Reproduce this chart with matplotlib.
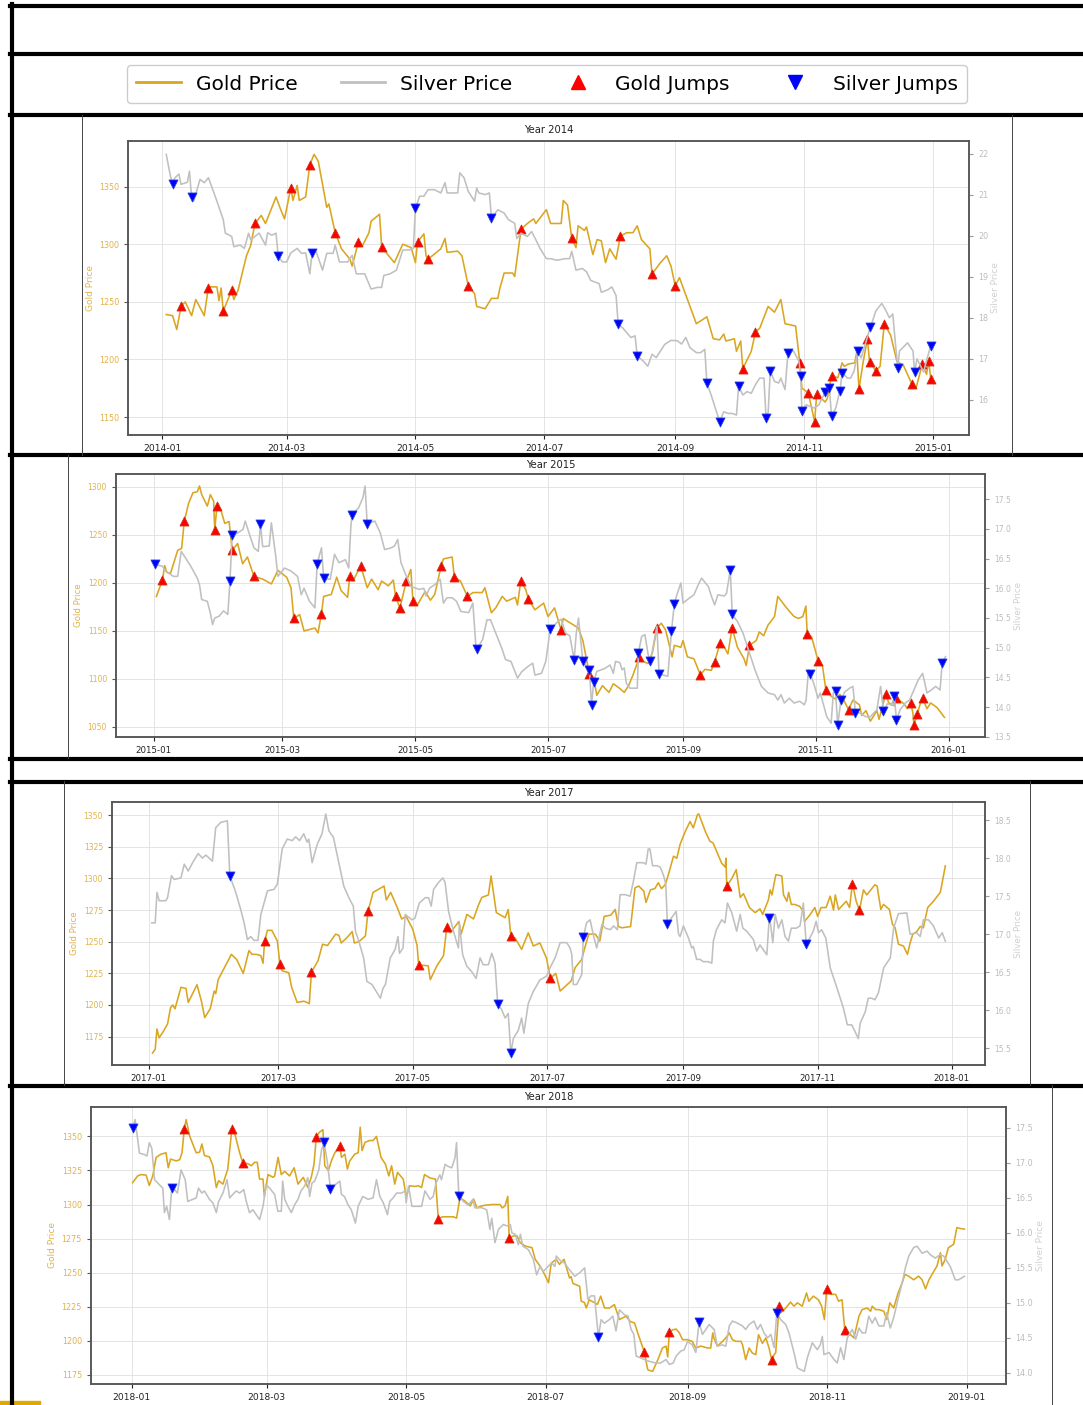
import matplotlib
matplotlib.use("Agg")
import matplotlib.pyplot as plt
import matplotlib.dates as mdates
from matplotlib.lines import Line2D
from matplotlib.patches import Rectangle
from matplotlib.ticker import MultipleLocator
import pandas as pd

# ---------------- data: (day of year, value) ----------------
gold_2014 = [(2,1239),(5,1238),(7,1226),(9,1246),(11,1250),(14,1238),(16,1252),(20,1238),(22,1263),(26,1263),(27,1251),(28,1262),(29,1242),(33,1260),(34,1252),(36,1260),(40,1290),(42,1299),(44,1318),(47,1325),(49,1318),(54,1341),(56,1331),(58,1322),(61,1349),(62,1338),(64,1351),(65,1338),(68,1341),(70,1369),(72,1378),(74,1372),(78,1332),(79,1335),(82,1310),(85,1296),(89,1287),(90,1281),(93,1302),(95,1299),(98,1310),(99,1320),(103,1326),(104,1298),(106,1293),(110,1284),(114,1300),(118,1297),(120,1284),(121,1302),(124,1309),(125,1290),(126,1287),(132,1296),(134,1305),(135,1293),(140,1294),(142,1290),(145,1264),(148,1257),(149,1246),(153,1244),(156,1253),(159,1253),(160,1262),(162,1275),(166,1275),(167,1272),(170,1313),(173,1318),(176,1322),(177,1318),(182,1330),(184,1318),(189,1318),(190,1338),(192,1334),(194,1305),(196,1297),(197,1316),(200,1312),(201,1315),(204,1291),(206,1304),(208,1303),(210,1284),(212,1296),(215,1287),(217,1307),(220,1310),(223,1310),(225,1316),(227,1304),(231,1296),(232,1274),(234,1279),(236,1284),(239,1290),(241,1281),(243,1264),(245,1271),(249,1251),(253,1231),(258,1237),(261,1218),(264,1217),(266,1222),(267,1216),(271,1218),(272,1207),(274,1216),(275,1192),(279,1207),(281,1224),(283,1227),(287,1246),(290,1241),(293,1252),(295,1231),(300,1229),(302,1197),(303,1175),(306,1171),(309,1146),(310,1170),(314,1163),(315,1166),(317,1186),(320,1184),(322,1197),(323,1194),(325,1196),(328,1197),(329,1207),(330,1174),(332,1198),(334,1218),(335,1198),(338,1190),(340,1194),(342,1231),(345,1221),(348,1198),(351,1195),(355,1179),(357,1175),(360,1196),(362,1187),(363,1199),(364,1183)]
silver_2014 = [(2,21.98),(4,21.45),(5,21.26),(6,21.4),(8,21.5),(9,21.25),(12,21.3),(13,21.57),(14,20.93),(15,20.84),(18,21.37),(20,21.29),(22,21.41),(26,20.84),(29,20.39),(30,20.06),(33,19.98),(34,19.73),(37,19.77),(39,19.69),(41,20.06),(42,19.9),(46,20.06),(49,19.77),(50,20.07),(52,20.01),(54,20.06),(55,19.5),(57,19.36),(59,19.36),(61,19.58),(64,19.69),(66,19.57),(68,19.58),(70,19.07),(71,19.57),(73,19.61),(76,19.16),(78,19.57),(81,19.57),(82,19.77),(84,19.36),(86,19.36),(88,19.36),(90,19.52),(92,19.07),(96,19.07),(99,18.7),(102,18.74),(104,18.74),(105,19.03),(108,19.07),(111,19.16),(114,19.65),(117,19.65),(119,19.69),(120,20.67),(122,20.96),(124,20.96),(126,21.12),(129,21.12),(132,21.04),(134,21.29),(135,21.04),(140,21.04),(141,21.53),(143,21.41),(145,21.08),(148,20.84),(149,21.16),(150,21.04),(153,21.0),(155,21.04),(156,20.43),(159,20.63),(162,20.55),(164,20.39),(167,20.3),(168,19.93),(170,20.06),(173,19.98),(175,20.1),(177,19.9),(179,19.69),(182,19.44),(184,19.44),(187,19.4),(191,19.44),(193,19.44),(194,19.62),(196,19.16),(199,19.2),(201,19.12),(203,18.91),(207,18.83),(208,18.62),(211,18.68),(213,18.75),(215,18.54),(216,17.84),(218,17.76),(222,17.52),(224,17.56),(225,17.07),(228,16.94),(230,16.82),(232,17.11),(234,17.03),(238,17.35),(241,17.45),(244,17.44),(246,17.36),(248,17.52),(250,17.27),(253,17.15),(255,17.15),(257,17.23),(258,16.41),(260,16.12),(261,15.96),(264,15.47),(266,15.71),(268,15.67),(270,15.67),(272,15.63),(273,16.33),(275,16.12),(277,16.2),(279,16.16),(281,16.37),(283,16.53),(285,16.53),(286,15.57),(287,15.7),(288,16.7),(290,16.45),(292,16.41),(293,16.53),(295,16.25),(296.4,17.15),(299,17.19),(301.6,16.94),(302.4,16.57),(303,15.73),(305,15.88),(307,15.84),(308.8,15.8),(311,15.88),(314,16.19),(316,16.3),(317,15.6),(319,15.8),(321,16.22),(322,16.66),(324.6,16.53),(326,16.53),(327.7,16.7),(329.4,17.19),(331,17.02),(333,17.35),(335.4,17.78),(336.5,17.93),(338,18.17),(340.8,18.35),(342.8,18.17),(344.4,18.0),(346,18.09),(347.6,17.19),(348.4,16.78),(349.2,17.19),(353,17.39),(355.6,17.19),(356.3,16.68),(357.5,17.0),(359,16.84),(360.6,16.68),(362.2,17.0),(364,17.31)]
gold_jumps_2014 = [(9,1246),(22,1262),(29,1242),(33,1260),(44,1318),(61,1349),(70,1369),(82,1310),(93,1302),(104,1298),(121,1302),(126,1287),(145,1264),(170,1313),(194,1305),(217,1307),(232,1274),(243,1264),(275,1192),(281,1224),(302,1197),(306,1171),(309,1146),(310,1170),(317,1186),(330,1174),(334,1218),(335,1198),(338,1190),(342,1231),(355,1179),(360,1196),(363,1199),(364,1183)]
silver_jumps_2014 = [(5,21.26),(14,20.93),(55,19.5),(71,19.57),(120,20.67),(156,20.43),(216,17.84),(225,17.07),(258,16.41),(264,15.47),(273,16.33),(286,15.57),(288,16.7),(296.4,17.15),(302.4,16.57),(303,15.73),(314,16.19),(316,16.3),(317,15.6),(321,16.22),(322,16.66),(329.4,17.19),(335.4,17.78),(348.4,16.78),(356.3,16.68),(364,17.31)]

gold_2015 = [(1.2,1186),(4,1203),(5,1218),(6,1211),(7.7,1210),(11,1234),(12.8,1236),(14,1264),(16,1283),(18,1294),(20,1295),(21,1301),(22,1292),(24.6,1280),(26,1292),(27.5,1285),(28,1255),(29,1280),(30.8,1276),(32.6,1262),(34.6,1264),(36,1234),(38.5,1241),(40.8,1220),(43,1227),(46,1207),(48.5,1205),(50,1204),(54,1199),(57,1213),(61,1206),(63,1195),(64.3,1163),(67,1167),(69,1150),(74,1153),(75.4,1148),(77,1168),(78,1186),(81.5,1188),(84,1206),(86,1192),(89,1185),(90,1207),(91.5,1202),(95,1218),(98,1195),(100,1204),(103,1193),(104.6,1202),(107.7,1197),(110,1203),(111,1186),(113,1174),(116,1202),(118,1214),(119,1181),(121,1177),(124.6,1191),(127,1182),(129,1188),(132,1218),(133,1225),(137,1227),(138,1206),(140.8,1202),(144,1186),(146.6,1190),(150.8,1190),(152,1195),(155,1169),(157,1174),(160,1186),(162,1181),(166,1185),(167,1177),(168.5,1202),(170.8,1193),(172,1183),(175,1172),(179,1179),(181,1165),(184,1174),(187,1151),(188,1163),(190,1160),(195,1153),(197,1140),(200,1105),(202,1101),(203.4,1083),(206,1093),(209,1086),(211,1095),(214,1090),(216,1086),(218,1093),(220,1104),(223,1123),(225,1118),(227,1116),(229,1128),(231,1153),(233,1158),(235,1151),(238,1123),(239,1135),(242,1133),(243,1140),(245,1123),(248,1121),(251,1104),(253,1110),(256,1109),(257.5,1118),(260,1137),(262,1133),(263.6,1126),(265.5,1153),(268,1133),(271,1121),(272,1114),(273.5,1135),(276.6,1140),(278,1149),(280,1145),(282,1156),(285,1165),(286.5,1186),(289.5,1177),(292,1170),(294,1165),(296,1163),(298,1165),(299.4,1176),(300,1147),(302,1144),(305,1119),(307,1114),(308.6,1088),(311,1082),(313,1079),(315,1084),(317,1077),(319,1068),(321,1078),(324,1073),(325,1062),(327,1067),(329,1056),(332,1067),(333,1058),(336,1084),(337.5,1075),(340,1072),(341,1080),(344.5,1074),(346,1069),(347.5,1075),(348.5,1065),(349,1052),(350.5,1063),(352,1075),(353,1080),(355,1069),(356.7,1075),(359.7,1070),(363,1060)]
silver_2015 = [(0.8,16.4),(4,16.37),(5.4,16.29),(9,16.2),(11,16.2),(12.6,16.62),(14.6,16.51),(17,16.37),(20,16.17),(21,16.06),(22,15.81),(24.6,15.78),(26,15.58),(27,15.39),(28,15.5),(30,15.53),(32,15.62),(34,15.56),(35,16.13),(36,16.9),(38.5,16.93),(41,16.99),(42,17.13),(44,16.9),(46,16.68),(48,16.62),(49,17.08),(50,16.7),(53,16.71),(54,17.1),(56,16.54),(57,16.2),(60,16.34),(63,16.29),(66,16.2),(67.7,15.89),(69,16.0),(71.5,15.78),(74,15.67),(75,16.41),(77,16.68),(78,16.17),(81,16.15),(83,16.57),(85,16.43),(88,16.48),(89.5,16.34),(90.5,17.04),(91,17.24),(94,17.35),(96,17.52),(97,17.72),(98,17.08),(101.5,17.13),(104,16.93),(106,16.65),(109,16.68),(110.5,16.71),(112,16.82),(113.5,16.43),(116,16.2),(118,16.03),(122,15.98),(124,16.0),(125,15.87),(126.6,16.0),(129,16.06),(131.5,16.15),(133,15.75),(134.6,15.84),(137,15.84),(139,15.78),(141,15.61),(144.6,15.59),(146.5,15.75),(148,14.97),(148.5,14.98),(151,15.14),(153,15.47),(154.6,15.47),(157,15.25),(160,14.97),(161.5,14.8),(164,14.77),(167,14.49),(169,14.6),(172,14.69),(174,14.74),(175,14.54),(178,14.57),(180,14.77),(182,15.31),(185,15.42),(187,15.48),(189,15.25),(191,15.2),(193,14.8),(194,15.25),(195,15.5),(197,14.77),(200,14.63),(201,14.04),(202,14.43),(203.4,14.6),(207,14.65),(209.5,14.71),(211,14.57),(212,14.77),(214,14.75),(215,14.63),(216,14.66),(217,14.4),(218.6,14.32),(222,14.32),(222.5,14.91),(224,15.19),(225.5,15.22),(227,14.88),(228,14.77),(229.5,15.07),(231,15.36),(232,14.56),(234,14.54),(236,14.52),(237.7,15.28),(239,15.74),(240,15.87),(242,16.09),(243,15.75),(245,15.81),(248,15.89),(250,16.06),(251.5,16.17),(254.6,16.03),(256,15.87),(257.5,15.72),(259,15.89),(262,15.87),(263,15.92),(264.7,16.31),(265.6,15.56),(268,15.44),(270.5,15.25),(273,14.97),(276,14.63),(279,14.35),(282,14.24),(285,14.21),(286.5,14.12),(288,14.21),(289.5,14.07),(291.8,14.15),(294,14.07),(296.6,14.1),(298.7,14.04),(299.5,14.12),(300.6,14.63),(301.4,14.56),(303,14.4),(305,14.15),(306,14.24),(307.5,14.04),(309,13.84),(311,13.73),(312,14.24),(313,14.28),(314,13.7),(315.5,14.12),(317.3,14.26),(319.5,14.32),(321,14.35),(321.8,14.04),(322,13.9),(324.6,13.9),(326.8,13.84),(329,13.84),(332,13.96),(333.7,14.35),(335,13.94),(336.9,14.06),(339,14.03),(340,14.18),(341,13.78),(342.7,13.96),(345,14.07),(347,14.12),(349,14.29),(351,14.46),(353,14.57),(355,14.24),(357,14.29),(359,14.35),(361,14.29),(362,14.75),(363.5,14.85)]
gold_jumps_2015 = [(4,1203),(14,1264),(28,1255),(29,1280),(36,1234),(46,1207),(64.3,1163),(77,1168),(90,1207),(95,1218),(111,1186),(113,1174),(116,1202),(119,1181),(132,1218),(138,1206),(144,1186),(168.5,1202),(172,1183),(187,1151),(200,1105),(223,1123),(231,1153),(251,1104),(257.5,1118),(260,1137),(265.5,1153),(273.5,1135),(300,1147),(305,1119),(308.6,1088),(319,1068),(336,1084),(341,1080),(347.5,1075),(349,1052),(350.5,1063),(353,1080)]
silver_jumps_2015 = [(0.8,16.4),(35,16.13),(36,16.9),(49,17.08),(75,16.41),(78,16.17),(91,17.24),(98,17.08),(148.5,14.98),(182,15.31),(193,14.8),(197,14.77),(200,14.63),(201,14.04),(202,14.43),(222.5,14.91),(228,14.77),(232,14.56),(237.7,15.28),(239,15.74),(264.7,16.31),(265.6,15.56),(301.4,14.56),(313,14.28),(314,13.7),(315.5,14.12),(322,13.9),(335,13.94),(340,14.18),(341,13.78),(362,14.75)]

gold_2017 = [(1.8,1162),(3,1165),(3.8,1181),(4.8,1174),(7,1180),(8.6,1185),(10,1198),(11,1200),(12,1197),(14.7,1214),(17,1213),(18,1202),(22,1216),(24,1203),(25.5,1190),(28,1197),(29.8,1211),(30.5,1209),(31.6,1220),(34.3,1229),(37.6,1240),(40,1236),(43,1225),(45.6,1243),(47,1240),(49,1240),(51,1239),(52,1233),(52.7,1250.5),(54,1259),(56,1259),(58.5,1250.5),(59.7,1232),(60.7,1227),(63.7,1225.5),(65,1214),(67.5,1202),(70.5,1203),(72,1202),(73,1201),(74,1226),(77,1235),(79,1248),(81.3,1247),(85,1256),(86.5,1255),(87.5,1249),(90,1253),(92.5,1258),(93.5,1249),(95.5,1250),(98.5,1254.5),(99.7,1274),(102,1289),(107,1294),(108,1283),(110,1289),(113,1277),(115,1268),(117,1270),(120,1260),(122,1247),(122.7,1231.6),(127,1231),(128,1220),(131,1231),(134,1239),(135.5,1262),(137,1257),(141,1266),(142,1256),(144.6,1271.6),(147.6,1268),(150,1279.5),(151.4,1285),(154.4,1287),(155.6,1302),(158,1273),(162,1269),(163.4,1275.5),(164.6,1254.5),(166.5,1253),(169.5,1244),(172.5,1257),(174.8,1246.6),(177.8,1249),(180.8,1237),(182.5,1221),(185,1225),(187,1211),(189.5,1215),(192,1219),(193.8,1229.5),(196.8,1236),(198,1244),(200,1256),(203,1256),(205,1250.5),(207,1270),(210,1271),(212,1275.5),(213.5,1262),(215,1261),(219,1262),(221,1292.6),(222.7,1294),(225,1290),(226,1281),(228,1291),(230,1292),(231.6,1296.6),(233,1292),(234.7,1295),(236,1302),(238.5,1317.6),(240,1316),(241.5,1327),(243.8,1337),(246,1345),(247.5,1340),(249.4,1350.5),(250,1351),(253,1337),(255,1329.5),(256.5,1328),(260.4,1312),(262,1309),(262.3,1316),(262.7,1294),(265,1300),(267,1307),(268.8,1285),(270.3,1288),(273,1277),(275.6,1273),(277.8,1276),(279,1271.6),(281.6,1283),(282.4,1291),(283.2,1287),(285,1303),(287.7,1302),(288.5,1287),(290,1282),(290.8,1289),(292,1279.5),(293.5,1279.5),(295.8,1278),(297.5,1274),(298,1266),(300.4,1271),(302.7,1277),(304,1270),(305.5,1277),(307.8,1277),(309.7,1286),(311.2,1275),(312,1287),(313.5,1275.5),(317,1282),(318.5,1277),(319.8,1296),(321.5,1282),(323,1274.7),(324.8,1291),(326.3,1287),(330,1295),(331,1294),(332.7,1275.5),(333.9,1279.5),(336.6,1275.5),(338,1263.7),(339.2,1261),(340.7,1248),(343,1246.6),(344.8,1240),(346,1249),(347.2,1255.8),(349,1258),(350.6,1262),(352,1261),(354,1277),(356.6,1282),(359.7,1289),(360.4,1295),(362,1310)]
silver_2017 = [(1.4,17.15),(3,17.15),(3.8,17.55),(4.8,17.44),(7.8,17.44),(8.6,17.48),(10.4,17.77),(11.6,17.72),(14.7,17.74),(16.2,17.92),(18,17.83),(20,17.94),(22.5,18.06),(24.5,18.0),(26,18.04),(29,17.96),(30.5,18.4),(32.8,18.47),(35.8,18.49),(36.9,17.77),(39.6,17.55),(41.8,17.33),(43.4,17.15),(44.9,16.93),(46.4,16.97),(47.9,16.92),(49.7,16.92),(51,17.26),(54,17.57),(57,17.59),(58.5,17.66),(60.7,18.12),(63,18.25),(65.3,18.23),(66.8,18.28),(68.6,18.23),(70.5,18.32),(72,18.21),(72.8,18.25),(74.3,17.94),(76.6,18.18),(78.8,18.32),(80.5,18.58),(81.9,18.36),(84,18.27),(86.4,17.94),(88.7,17.63),(91,17.48),(93,17.37),(94,17.04),(95.5,16.91),(97.7,16.69),(99.2,16.38),(101.5,16.34),(105.3,16.16),(106.5,16.29),(107.6,16.34),(109.8,16.69),(112,16.8),(113.3,16.97),(114,16.75),(115.6,16.82),(116.6,17.26),(119.6,17.19),(121,17.21),(123,17.41),(125.7,17.48),(127.2,17.48),(128.4,17.37),(129.5,17.59),(131.7,17.68),(133.7,17.74),(134.7,17.68),(136.3,17.3),(138.5,17.04),(140.8,16.82),(141.2,17.15),(142.7,16.73),(144.6,16.58),(146.8,16.51),(148.8,16.42),(150.6,16.69),(152,16.6),(154.4,16.6),(155.9,16.75),(157.4,16.62),(158.6,16.09),(160.4,16.01),(162,15.9),(163.4,15.96),(164.6,15.44),(165.7,15.63),(168,15.74),(169.5,15.9),(170.5,15.7),(172.5,16.09),(174.8,16.25),(177.8,16.4),(180.8,16.45),(182.4,16.56),(184.7,16.69),(187,16.89),(190,16.89),(191.5,16.82),(192.3,16.73),(193,16.34),(194.5,16.34),(196.8,16.47),(197.5,16.96),(199,17.15),(200.6,17.19),(202,17.0),(203.6,16.82),(206,17.13),(207.5,17.08),(209.8,17.06),(211.3,17.11),(213,17.06),(214.2,17.52),(216.5,17.52),(218.8,17.5),(220.3,17.7),(221.8,17.94),(224.8,17.94),(226,17.92),(227,18.12),(227.8,18.12),(229,17.9),(231,17.9),(232.5,17.88),(234,17.77),(235,17.66),(235.7,17.14),(237.7,17.22),(239.7,17.3),(240.8,17.0),(241.5,16.97),(243,17.11),(245.3,16.95),(246.8,16.82),(247.5,16.84),(249,16.67),(250.6,16.67),(252,16.64),(254.3,16.64),(255.9,16.62),(256.6,16.91),(258,17.06),(260.4,17.19),(261.9,17.15),(263,17.41),(265,17.28),(267.2,17.04),(268.8,17.26),(270,17.08),(271.8,17.04),(274.8,16.93),(276.3,16.78),(277.8,16.86),(280.9,16.73),(282,17.22),(282.7,17.11),(283.6,16.89),(284.7,17.26),(286.2,17.08),(287.7,17.19),(289.2,16.97),(290.7,16.91),(292,17.08),(294.3,17.08),(296,17.11),(297.5,17.41),(298.8,16.87),(300.4,16.95),(302,17.04),(303.3,17.17),(304.4,17.02),(305.8,17.06),(307.7,16.95),(309.7,16.56),(312,16.36),(313.5,16.23),(315.7,16.03),(317.5,15.81),(319.5,15.81),(322.5,15.63),(323.3,15.83),(325.6,15.98),(327,16.16),(328.5,16.16),(330,16.14),(331.6,16.23),(334,16.56),(337,16.69),(338.5,17.08),(340.7,17.27),(344.5,17.28),(346,17.0),(349,17.02),(350.6,16.97),(352,17.19),(354.3,17.19),(356.6,17.11),(359,16.95),(360.6,17.02),(362,16.91)]
gold_jumps_2017 = [(52.7,1250.5),(59.7,1232),(74,1226),(99.7,1274),(122.7,1231.6),(135.5,1262),(164.6,1254.5),(182.5,1221),(262.7,1294),(319.8,1296),(323,1274.7)]
silver_jumps_2017 = [(36.9,17.77),(158.6,16.09),(164.6,15.44),(197.5,16.96),(235.7,17.14),(282,17.22),(298.8,16.87)]

gold_2018 = [(0.4,1316),(2.6,1321),(4,1322),(6.3,1321.6),(7.7,1314),(9.2,1321),(10.7,1334.6),(12.8,1337),(15,1338),(16,1327),(17,1333.4),(19.5,1332),(21,1333),(22,1338),(23,1355.5),(23.8,1362.4),(25.3,1350.6),(28.2,1338),(29.7,1338.5),(30.7,1344.5),(31.8,1336),(34,1335),(35.5,1328.5),(37,1312.5),(38,1317.5),(39.9,1315),(42,1326),(43.8,1355.5),(45.3,1350.6),(47.2,1338),(48.6,1330.5),(50.8,1330),(52.3,1328.5),(53.7,1331),(54.9,1331),(55.9,1318.7),(57.4,1318.7),(58,1306),(59.6,1322),(61.8,1320),(62.5,1321),(64,1334.6),(64.7,1328.5),(65.4,1322),(66.9,1324.4),(69,1321),(71,1327),(72.7,1315),(75,1320),(77,1312.5),(78.5,1320),(79.7,1329.7),(80.7,1349.4),(82,1353),(83.6,1355),(84.4,1328.5),(86,1325),(87.4,1332.5),(88.8,1338),(91,1343),(91.7,1334.6),(93.2,1337),(94.3,1326),(95.3,1332),(97.5,1337),(99,1338),(99.9,1356.8),(100.7,1339.6),(102,1345.7),(104,1347),(105.5,1347),(107,1350),(109,1334.6),(110.9,1329.7),(112.4,1321),(113.6,1328.5),(115,1315),(116.2,1323.6),(118.7,1318.7),(120,1306),(121.6,1313.8),(123.8,1313.3),(125.3,1313.8),(126.7,1312.5),(128,1322),(130.4,1319.5),(132.8,1318.7),(134,1289.7),(136,1291),(138.4,1291),(140.6,1291),(142,1290),(143.5,1305),(145.7,1302.5),(148,1299),(149.5,1304),(150.9,1297.5),(153,1299),(154.5,1299.5),(157.4,1300),(161,1300),(162,1297.5),(163.2,1299),(164.4,1306),(165,1275.7),(167,1277),(168.4,1277),(169.8,1272),(172,1269.5),(175,1268.3),(176.4,1259.7),(178.5,1254.8),(180.5,1248.6),(182.2,1242.5),(183.4,1257),(185.6,1259.7),(187,1256),(189,1259.7),(191.4,1246),(192.1,1247),(192.9,1242),(194.3,1241),(195.8,1240),(196.5,1229),(197.9,1228),(198.7,1224),(200,1230),(202.2,1228),(203.6,1226.6),(205,1232.7),(206.7,1224),(208.9,1224),(211,1226.5),(213.2,1215.5),(216.1,1218),(218,1214),(219.8,1213),(221.2,1205.7),(224,1192),(225.6,1178.6),(227.7,1177.4),(230,1186),(232,1194.6),(233.6,1196),(234.3,1188),(235,1206),(236.5,1208),(238,1208.5),(239.4,1205.7),(240.8,1200.7),(243,1200.7),(245,1199.5),(246.6,1194.6),(248.8,1196),(251.7,1194.6),(253.1,1194.6),(254,1205.7),(254.5,1202),(256,1196),(258.3,1199.5),(259.7,1202),(261.2,1205.7),(262.6,1200.7),(264.1,1199.5),(266.3,1199.5),(267,1197),(268.4,1186),(269.9,1194.6),(271.3,1190.9),(272.8,1189.7),(274,1204.4),(275.7,1198),(277.2,1202),(278.6,1194.6),(279.8,1185.5),(280.8,1189.7),(281.5,1191),(283,1225.3),(283.7,1220.4),(285.9,1224),(288,1228.3),(289.5,1225.3),(291,1227.8),(293.1,1225.3),(295,1235),(296,1229),(298,1232.7),(300.2,1230),(301.6,1225.3),(302.8,1215.5),(303.8,1238),(305.5,1234),(307.7,1234),(309,1229),(310.5,1230),(311.7,1208),(313.5,1205.7),(315.7,1202),(317.9,1218),(319.3,1222.8),(321.5,1224),(323,1221.6),(323.7,1225.3),(325.2,1222.8),(326.6,1222.8),(328.8,1221.6),(330,1215.5),(331.4,1227.8),(333.1,1224),(335,1235),(336.8,1242.5),(338,1248.6),(339.6,1247.4),(341.8,1244.7),(344,1247.4),(345.5,1244.7),(347,1238),(348.5,1244.7),(350.3,1250),(352,1254.8),(353.5,1264.6),(354.2,1254.8),(355.6,1259.7),(357,1268.3),(359.3,1270.8),(360.7,1283),(362.5,1282.3),(364,1282)]
silver_2018 = [(0.4,17.5),(1.5,17.62),(3.4,17.14),(5.6,17.12),(6.7,17.1),(7.7,17.29),(8.8,17.21),(10,16.76),(12.1,16.69),(13.6,16.64),(14.3,16.29),(15.3,16.38),(16.5,16.19),(17.5,16.64),(18.7,16.62),(20,16.57),(21.6,16.9),(23.4,16.76),(24.5,16.45),(26.7,16.48),(28.2,16.5),(29.2,16.64),(30.7,16.57),(31.8,16.6),(34,16.48),(35.5,16.43),(37,16.29),(38,16.45),(39.9,16.57),(41.7,16.76),(42.8,16.5),(44.2,16.55),(45.7,16.6),(47.2,16.57),(49,16.62),(50.1,16.45),(51.5,16.29),(53,16.33),(55.9,16.19),(57.4,16.38),(58.8,16.69),(60.3,16.64),(62.5,16.55),(63.9,16.31),(65.4,16.31),(66,16.74),(66.9,16.48),(68.3,16.38),(69.8,16.29),(71.2,16.4),(72.7,16.48),(74,16.6),(75.6,16.67),(77,16.79),(77.8,16.52),(78.8,16.71),(80,16.74),(81.8,16.9),(83,17.19),(84.1,17.3),(85.5,17.02),(86.9,16.63),(89,16.69),(91,16.74),(91.7,16.55),(93,16.52),(94.6,16.4),(96,16.33),(97.8,16.14),(99,16.38),(101,16.52),(103.4,16.48),(105.5,16.5),(107,16.76),(108.5,16.52),(110,16.43),(111.8,16.26),(112.8,16.45),(114.3,16.5),(115.8,16.57),(118,16.57),(119.5,16.6),(120,16.43),(121,16.67),(122.5,16.38),(123.8,16.38),(126.7,16.38),(128.2,16.6),(130.4,16.48),(131.8,16.52),(133,16.71),(134.7,16.83),(135.4,16.76),(137,16.98),(138.4,16.95),(139.9,16.93),(141.3,17.07),(142,17.29),(143,16.53),(145,16.45),(147,16.4),(149.2,16.48),(150,16.36),(153,16.36),(155.2,16.33),(156.6,16.05),(157.4,16.21),(158.8,15.86),(160.3,16.05),(162.5,16.12),(164,16.1),(165.5,16.12),(166.2,16.0),(167.7,15.98),(169,15.83),(169.9,15.98),(171,15.81),(173.4,15.76),(175.6,15.62),(177,15.4),(178.5,15.52),(180,15.45),(182,15.52),(183.6,15.57),(185,15.52),(185.6,15.67),(187.5,15.6),(189.2,15.57),(190.7,15.5),(192,15.45),(193.7,15.38),(195.8,15.43),(198,15.5),(199.4,15.05),(200.8,15.1),(202.3,15.1),(204,14.51),(205.2,14.76),(206.6,14.71),(208.8,14.76),(210.3,14.81),(211.7,14.6),(213.2,14.9),(215.4,14.83),(217,14.81),(218.3,14.62),(219.5,14.55),(220.5,14.24),(222.7,14.21),(225.6,14.17),(229,14.14),(231.2,14.14),(233.6,14.19),(235,14.12),(236.7,14.14),(238,14.24),(240,14.31),(241.5,14.33),(243,14.45),(245,14.4),(246.6,14.29),(248,14.72),(249.5,14.55),(251,14.62),(252.4,14.69),(254.6,14.62),(256,14.38),(258.2,14.4),(259.7,14.38),(261.2,14.67),(262.6,14.74),(264.8,14.71),(267,14.67),(268.4,14.62),(269.9,14.69),(272,14.74),(273.5,14.62),(274.9,14.69),(276.4,14.57),(278,14.5),(279.4,14.55),(280.8,14.36),(282,14.86),(283.7,14.76),(285.9,14.69),(287.3,14.57),(289.5,14.29),(291,14.07),(294,14.02),(295.3,14.21),(297.5,14.43),(299.7,14.33),(301,14.4),(301.9,14.52),(302.6,14.26),(304.8,14.29),(307,14.19),(308.4,14.14),(309.9,14.36),(311.3,14.19),(312.8,14.5),(315,14.62),(316.5,14.48),(317.9,14.64),(319.3,14.57),(320.8,14.57),(322.2,14.81),(323.7,14.71),(325,14.79),(326.6,14.67),(328.8,14.67),(330,14.86),(331.6,14.64),(333.1,14.79),(334.6,15.0),(336.8,15.29),(338.2,15.5),(339.7,15.67),(341.8,15.79),(343.3,15.81),(345.5,15.71),(347.7,15.74),(349,15.69),(351.3,15.64),(353.4,15.69),(354.9,15.67),(356.3,15.6),(357.8,15.52),(360,15.33),(361.5,15.33),(364,15.38)]
gold_jumps_2018 = [(23,1355.5),(43.8,1355.5),(48.6,1330.5),(80.7,1349.4),(91,1343),(134,1289.7),(165,1275.7),(224,1192),(235,1206),(279.8,1185.5),(283,1225.3),(303.8,1238),(311.7,1208)]
silver_jumps_2018 = [(0.4,17.5),(17.5,16.64),(84.1,17.3),(86.9,16.63),(143,16.53),(204,14.51),(248,14.72),(282,14.86)]

years = [2014, 2015, 2017, 2018]
legend_labels = ["Gold Price", "Silver Price", "Gold Jumps", "Silver Jumps"]

# ---------------- style ----------------
GOLD = "#DAA520"
GOLD_TXT = "#E2B24A"
SILVER = "#C0C0C0"
SILVER_TXT = "#BDBDBD"
W, H = 1083, 1405

fig = plt.figure(figsize=(W / 100, H / 100), dpi=100)
fig.patch.set_facecolor("white")


def fx(x):
    return x / W


def fy(y):
    return 1 - y / H


def to_xy(year, pairs):
    d = [pd.Timestamp(year, 1, 1) + pd.Timedelta(days=p[0]) for p in pairs]
    v = [p[1] for p in pairs]
    return d, v


panels = [
    dict(year=2014, gold=gold_2014, silver=silver_2014, gj=gold_jumps_2014, sj=silver_jumps_2014,
         box=(128, 141, 969, 435), ty=130, gstep=50, sstep=1.0, xfs=6.6, yfs=5.8),
    dict(year=2015, gold=gold_2015, silver=silver_2015, gj=gold_jumps_2015, sj=silver_jumps_2015,
         box=(116, 474, 985, 737), ty=465, gstep=50, sstep=0.5, xfs=6.2, yfs=5.5),
    dict(year=2017, gold=gold_2017, silver=silver_2017, gj=gold_jumps_2017, sj=silver_jumps_2017,
         box=(112, 802, 985, 1065), ty=793, gstep=25, sstep=0.5, xfs=6.2, yfs=5.5),
    dict(year=2018, gold=gold_2018, silver=silver_2018, gj=gold_jumps_2018, sj=silver_jumps_2018,
         box=(91, 1107, 1006, 1384), ty=1097, gstep=25, sstep=0.5, xfs=6.6, yfs=5.8),
]

for p in panels:
    l, t, r, b = p["box"]
    ax = fig.add_axes([fx(l), fy(b), (r - l) / W, (b - t) / H])
    ax2 = ax.twinx()
    gd, gv = to_xy(p["year"], p["gold"])
    sd, sv = to_xy(p["year"], p["silver"])
    gjd, gjv = to_xy(p["year"], p["gj"])
    sjd, sjv = to_xy(p["year"], p["sj"])
    ax.plot(gd, gv, color=GOLD, lw=1.15, zorder=2)
    ax2.plot(sd, sv, color=SILVER, lw=1.15, zorder=2)
    ax.scatter(gjd, gjv, marker="^", s=42, color="red", edgecolors="#D03010", linewidths=0.6, zorder=4)
    ax2.scatter(sjd, sjv, marker="v", s=42, color="blue", edgecolors="#2040E0", linewidths=0.6, zorder=4)

    ax.xaxis.set_major_locator(mdates.MonthLocator(bymonth=[1, 3, 5, 7, 9, 11]))
    ax.xaxis.set_major_formatter(mdates.DateFormatter("%Y-%m"))
    ax.yaxis.set_major_locator(MultipleLocator(p["gstep"]))
    ax2.yaxis.set_major_locator(MultipleLocator(p["sstep"]))
    ax.grid(True, color="#dddddd", lw=0.7, alpha=0.8)
    ax.set_axisbelow(True)

    ax.tick_params(axis="x", labelsize=p["xfs"], colors="#222222", length=3, width=0.8)
    ax.tick_params(axis="y", labelsize=p["yfs"], colors="#555555", labelcolor=GOLD_TXT, length=3, width=0.8)
    ax2.tick_params(axis="y", labelsize=p["yfs"], colors="#999999", labelcolor=SILVER_TXT, length=3, width=0.8)
    ax.set_ylabel("Gold Price", color=GOLD_TXT, fontsize=p["yfs"] + 0.7, labelpad=3)
    ax2.set_ylabel("Silver Price", color="#D0D0D0", fontsize=p["yfs"] + 0.7, labelpad=2)
    for a in (ax, ax2):
        for s in a.spines.values():
            s.set_color("#555555")
            s.set_linewidth(1.1)
    fig.text(fx((l + r) / 2), fy(p["ty"]), f"Year {p['year']}", ha="center", va="center",
             fontsize=7.2, color="#222222")

# ---------------- legend ----------------
handles = [
    Line2D([], [], color=GOLD, lw=2),
    Line2D([], [], color=SILVER, lw=2),
    Line2D([], [], color="red", marker="^", ls="none", markersize=10),
    Line2D([], [], color="blue", marker="v", ls="none", markersize=10),
]
leg = fig.legend(handles, legend_labels, loc="center", bbox_to_anchor=(fx(547), fy(84)), ncol=4,
                 fontsize=14.5, frameon=True, fancybox=True, edgecolor="#cccccc", framealpha=1,
                 handlelength=2.2, handletextpad=0.75, columnspacing=2.15, borderpad=0.45)
leg.get_frame().set_linewidth(1.0)

# ---------------- collage frame lines ----------------
for y in [5.5, 54, 114.5, 455, 759, 781.5, 1085.5]:
    fig.add_artist(Line2D([fx(10), 1], [fy(y), fy(y)], color="black", lw=3.0, transform=fig.transFigure))
fig.add_artist(Line2D([fx(11.5), fx(11.5)], [fy(4), 0], color="black", lw=3.0, transform=fig.transFigure))
thin = [(81.5, 115, 455), (1012, 115, 455), (68, 455, 758), (63.5, 781, 1085), (1030, 781, 1085), (1052, 1085, 1405)]
for x, y0, y1 in thin:
    fig.add_artist(Line2D([fx(x), fx(x)], [fy(y0), fy(y1)], color="#444444", lw=0.7, transform=fig.transFigure))
fig.add_artist(Rectangle((0, 0), fx(40), 4.5 / H, color="#E0A800", transform=fig.transFigure, zorder=0))

fig.savefig("out.png", dpi=100, facecolor="white")
